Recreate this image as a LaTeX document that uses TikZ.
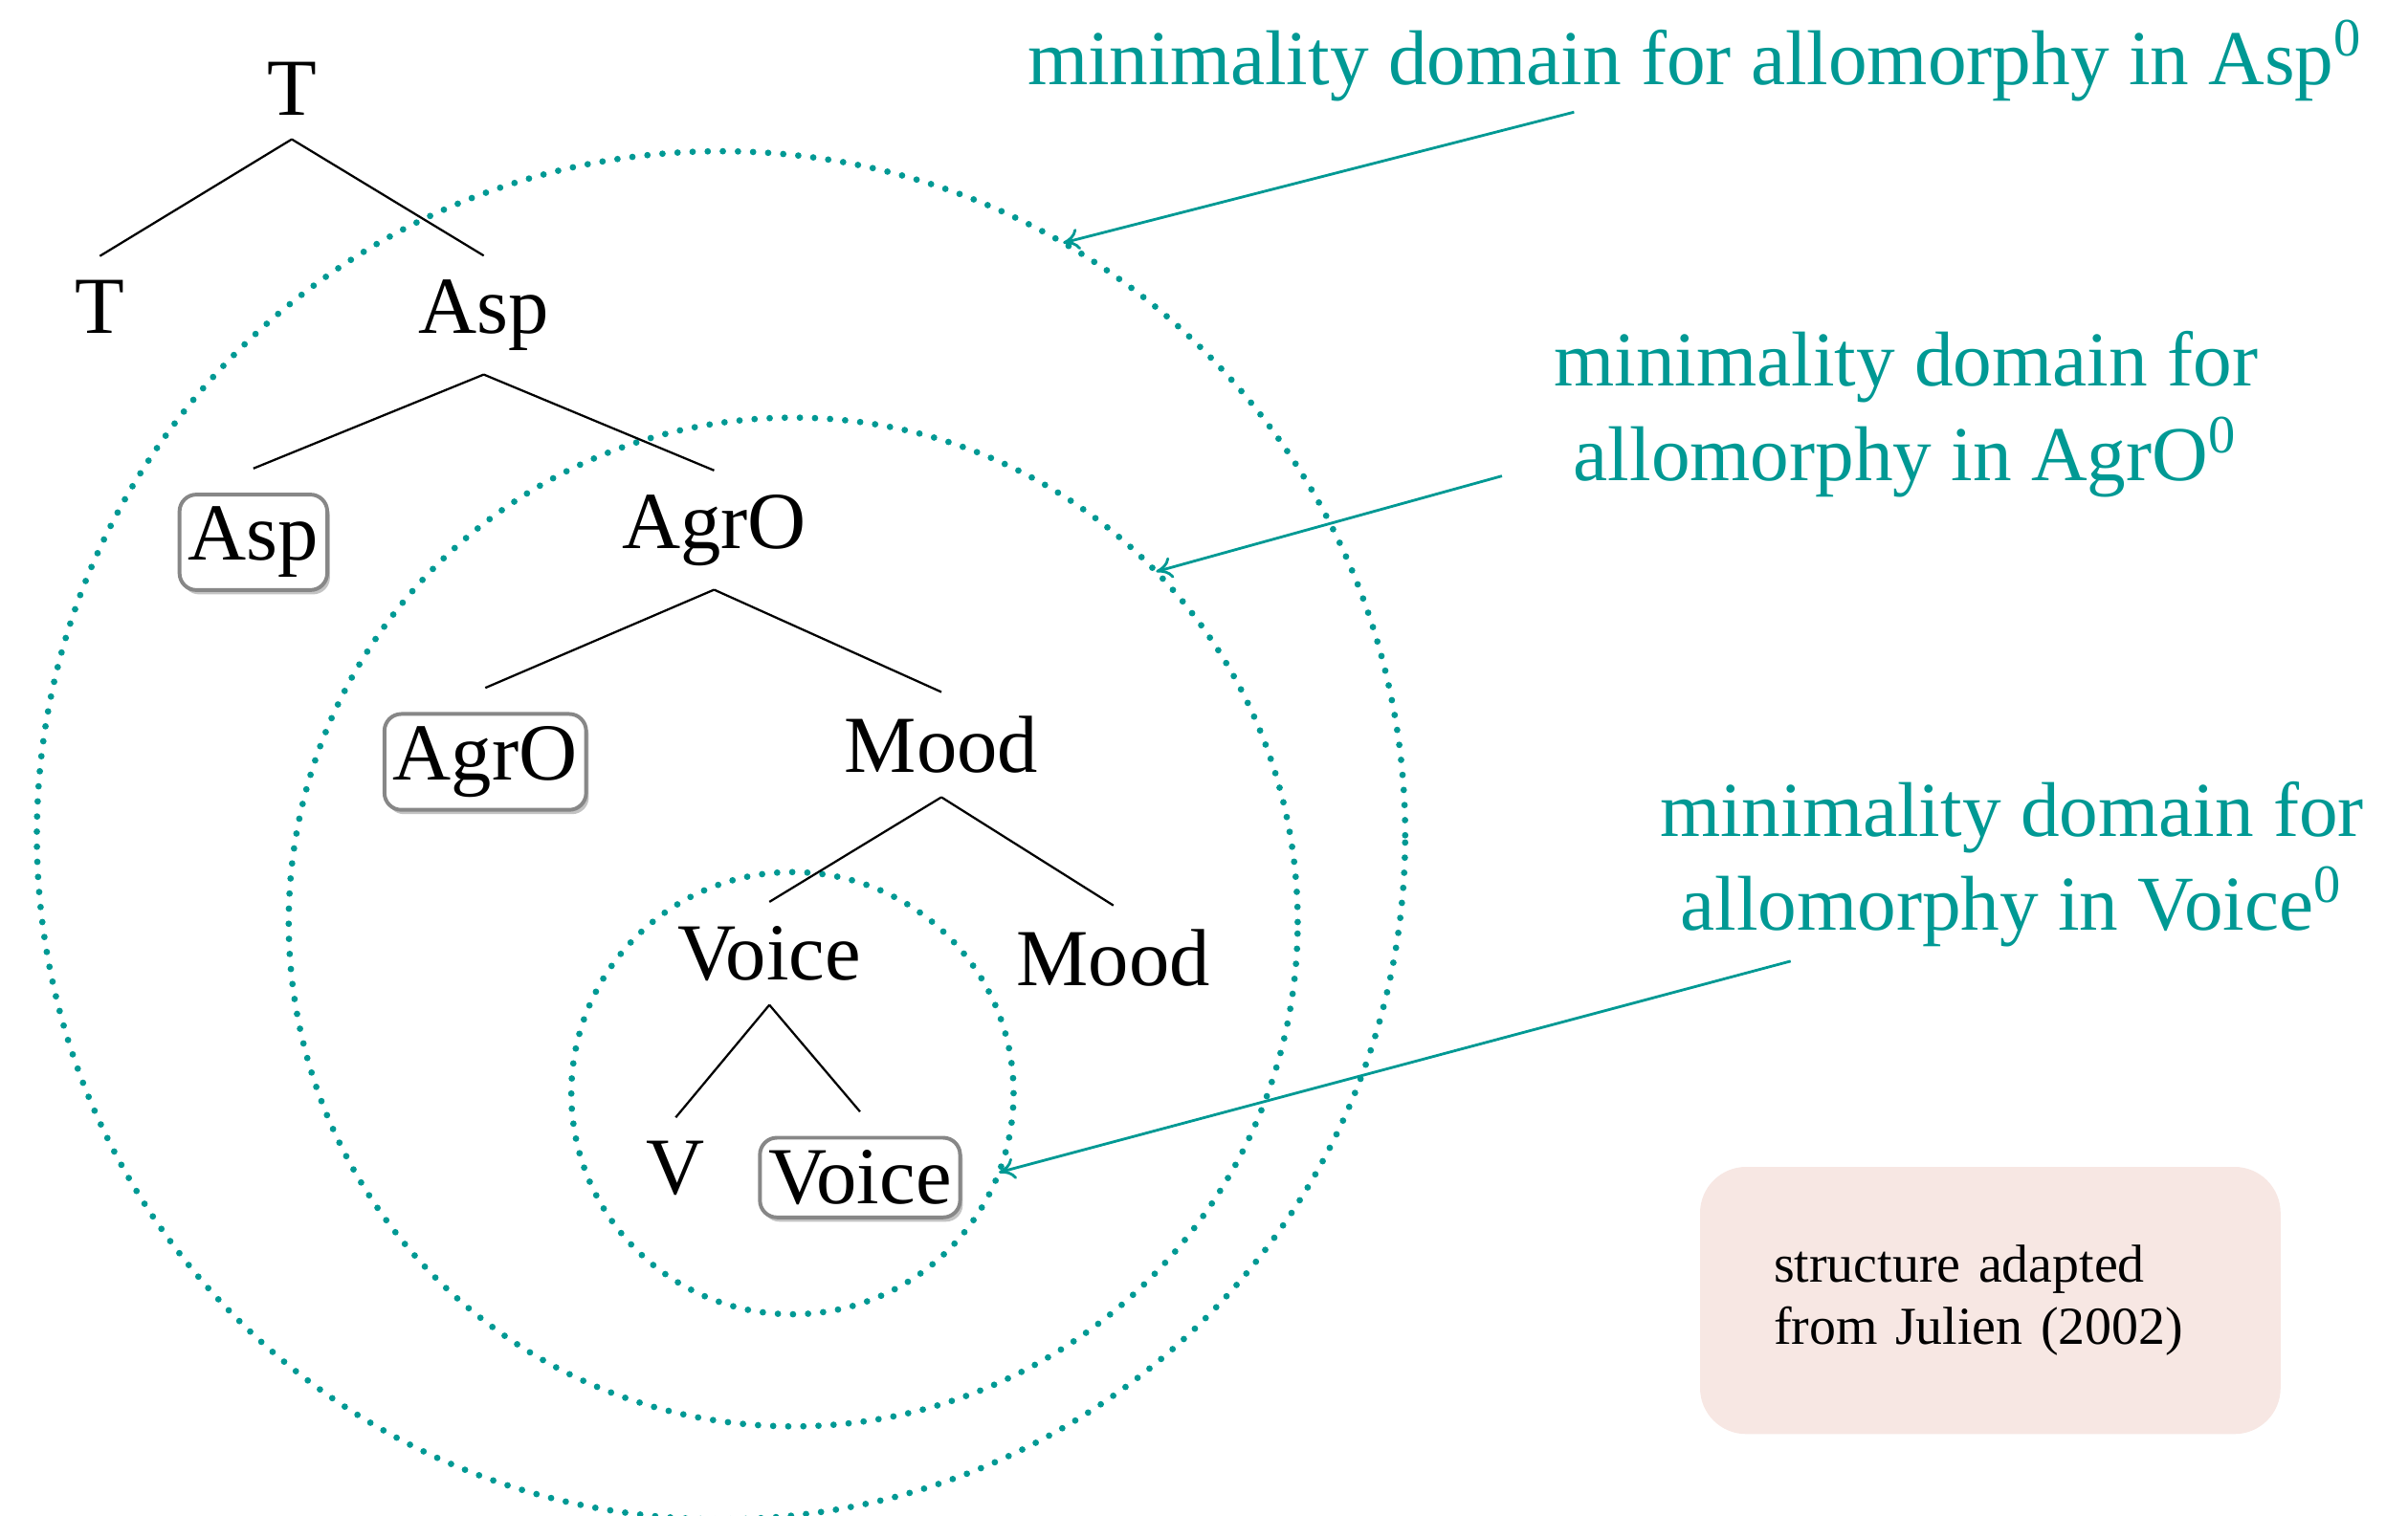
\documentclass[tikz,border=0pt]{standalone}
\usepackage{fontspec}
\setmainfont{Liberation Serif}
\usepackage{tikz}
\usetikzlibrary{positioning, shadows, arrows.meta}
\definecolor{domteal}{RGB}{0,153,148}
\definecolor{notefill}{RGB}{247,231,227}
\definecolor{headgray}{RGB}{135,135,135}

\begin{document}
\begin{tikzpicture}[lbl/.style = {font=\fontsize{15}{18}\selectfont, inner sep=0.15cm},
    head/.style = {lbl, draw=headgray, line width=0.7pt, rounded corners=0.11cm, fill=white, inner xsep=1.6pt, inner ysep=2.3pt, outer sep=0.17cm, drop shadow={shadow xshift=0.5pt, shadow yshift=-0.8pt, fill=headgray}},
    dom/.style = {circle, draw=domteal, line width=1.2pt, dash pattern=on 0pt off 2.8pt, line cap=round, inner sep=0pt, outer sep=0pt},
    note/.style = {font=\fontsize{14.4}{17.5}\selectfont, text=domteal, align=center},
    pointer/.style = {draw=domteal, line width=0.5pt, -{To[length=3pt, width=4pt]}},
    src/.style = {fill=notefill, rounded corners=0.3cm, text width=2.82cm, inner xsep=0.48cm, minimum height=1.74cm, align=left, font=\fontsize{9.9}{11.6}\selectfont}]
    \useasboundingbox (0,0) rectangle (15.68,-9.87);

    \node[dom, minimum size=8.91cm] (outer) at (4.695,-5.44) {};
    \node[dom, minimum size=6.57cm] (mid) at (5.165,-6.005) {};
    \node[dom, minimum size=2.88cm] (inner) at (5.16,-7.12) {};

    \node[lbl, anchor=base] (T) at (1.90,-0.75) {T};
    \node[lbl, below left=1.42cm and 1.25cm of T.base, anchor=base] (Tt) {T};
    \node[lbl, below right=1.42cm and 1.25cm of T.base, anchor=base] (Asp) {Asp};
    \node[head, below left=1.48cm and 1.50cm of Asp.base, anchor=base] (Asph) {Asp};
    \node[lbl, below right=1.40cm and 1.50cm of Asp.base, anchor=base] (AgrO) {AgrO};
    \node[head, below left=1.51cm and 1.49cm of AgrO.base, anchor=base] (AgrOh) {AgrO};
    \node[lbl, below right=1.46cm and 1.48cm of AgrO.base, anchor=base] (Mood) {Mood};
    \node[lbl, below left=1.35cm and 1.12cm of Mood.base, anchor=base] (Voice) {Voice};
    \node[lbl, below right=1.39cm and 1.12cm of Mood.base, anchor=base] (Moodc) {Mood};
    \node[lbl, below left=1.40cm and 0.61cm of Voice.base, anchor=base] (V) {V};
    \node[head, below right=1.46cm and 0.59cm of Voice.base, anchor=base] (Voiceh) {Voice};

    \draw (T.south) -- (Tt.north) (T.south) -- (Asp.north);
    \draw (Asp.south) -- (Asph.north) (Asp.south) -- (AgrO.north);
    \draw (AgrO.south) -- (AgrOh.north) (AgrO.south) -- (Mood.north);
    \draw (Mood.south) -- (Voice.north) (Mood.south) -- (Moodc.north);
    \draw (Voice.south) -- (V.north) (Voice.south) -- (Voiceh.north);

    \node[note, anchor=base] (l1) at (11.04,-0.55) {minimality domain for allomorphy in Asp\textsuperscript{0}};
    \node[note] (l2) at (12.41,-2.70) {minimality domain for\\allomorphy in AgrO\textsuperscript{0}};
    \node[note] (l3) at (13.10,-5.63) {minimality domain for\\allomorphy in Voice\textsuperscript{0}};

    \coordinate (p1) at (10.25,-0.73);
    \coordinate (p2) at (9.78,-3.10);
    \coordinate (p3) at (11.66,-6.26);
    \draw[pointer] (p1) -- (outer.60);
    \draw[pointer] (p2) -- (mid.44);
    \draw[pointer] (p3) -- (inner.-21);

    \node[src] (src) at (12.96,-8.47) {structure adapted\\from Julien (2002)};
\end{tikzpicture}
\end{document}
